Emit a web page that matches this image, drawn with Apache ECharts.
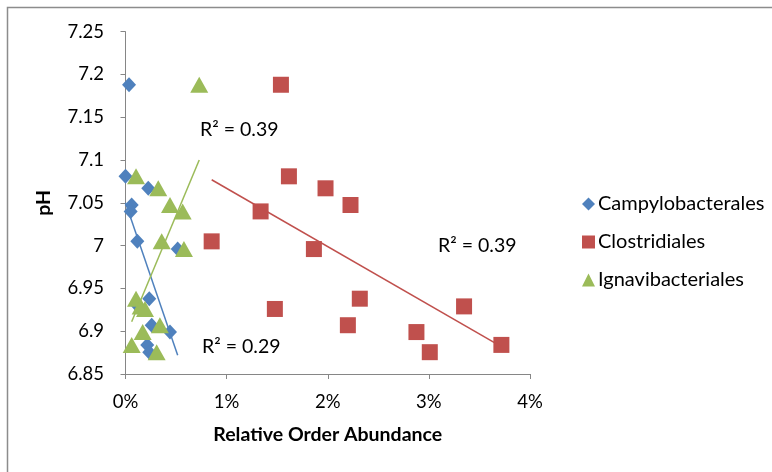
<!DOCTYPE html>
<html>
<head>
<meta charset="utf-8">
<script src="https://cdn.jsdelivr.net/npm/echarts@6/dist/echarts.min.js"></script>
<style>
html,body{margin:0;padding:0;background:#fff;}
#chart{width:772px;height:472px;}
</style>
</head>
<body>
<div id="chart"></div>
<script>
// pH of each sample
var phValues = [7.188, 7.081, 7.067, 7.0475, 7.040, 7.005, 6.996, 6.938, 6.929, 6.926, 6.907, 6.899, 6.884, 6.8755];
// Relative order abundance (%) per sample
var campylobacterales = [0.035, 0.0, 0.225, 0.061, 0.051, 0.117, 0.516, 0.235, 0.127, 0.15, 0.259, 0.44, 0.215, 0.235];
var clostridiales     = [1.537, 1.616, 1.978, 2.225, 1.336, 0.852, 1.863, 2.317, 3.348, 1.477, 2.199, 2.877, 3.717, 3.009];
var ignavibacteriales = [0.729, 0.104, 0.324, 0.44, 0.565, 0.358, 0.578, 0.104, 0.15, 0.193, 0.34, 0.17, 0.061, 0.308];
// Trendline endpoints (x %, pH)
var trendCampylo = [[0.0, 7.050], [0.516, 6.872]];
var trendClostri = [[0.852, 7.077], [3.717, 6.882]];
var trendIgnavi  = [[0.061, 6.911], [0.729, 7.100]];
var seriesNames = ['Campylobacterales', 'Clostridiales', 'Ignavibacteriales'];
var r2Labels = ['R² = 0.29', 'R² = 0.39', 'R² = 0.39'];

function pair(xs){ return xs.map(function(x,i){ return [x, phValues[i]]; }); }

var FONT = 'Lato';
var colors = ['#4F81BD', '#C0504D', '#9BBB59'];
var chart = echarts.init(document.getElementById('chart'));
var option = {
  animation: false,
  textStyle: {fontFamily: FONT},
  graphic: [
    {type:'rect', shape:{x:7.5, y:7.5, width:900, height:900}, style:{fill:'none', stroke:'#8c8c8c', lineWidth:1.5}, silent:true},
    {type:'text', left:200, top:120, style:{text:r2Labels[2], font:'19.5px ' + FONT, fill:'#000'}},
    {type:'text', left:438, top:236, style:{text:r2Labels[1], font:'19.5px ' + FONT, fill:'#000'}},
    {type:'text', left:202, top:337, style:{text:r2Labels[0], font:'19.5px ' + FONT, fill:'#000'}}
  ],
  grid: {left:125.5, top:31.7, right:242, bottom:98, containLabel:false},
  legend: {
    orient:'vertical', left:577, top:189, itemGap:18, itemWidth:13, itemHeight:13,
    textStyle:{fontSize:20, color:'#000', fontFamily:FONT, padding:[0,0,0,-2]},
    data:[{name:seriesNames[0], icon:'diamond'},{name:seriesNames[1], icon:'rect'},{name:seriesNames[2], icon:'triangle'}]
  },
  xAxis: {
    type:'value', min:0, max:4, interval:1,
    name:'Relative Order Abundance', nameLocation:'middle', nameGap:51,
    nameTextStyle:{fontSize:19.5, fontWeight:'bold', color:'#000', fontFamily:FONT},
    axisLine:{lineStyle:{color:'#868686', width:1}},
    axisTick:{show:true, length:5, lineStyle:{color:'#868686'}},
    splitLine:{show:false},
    axisLabel:{margin:19, fontSize:18.5, color:'#000', formatter:function(v){ return v + '%'; }}
  },
  yAxis: {
    type:'value', min:6.85, max:7.25, interval:0.05,
    name:'pH', nameLocation:'middle', nameGap:72, nameRotate:90,
    nameTextStyle:{fontSize:19.5, fontWeight:'bold', color:'#000', fontFamily:FONT},
    axisLine:{show:true, lineStyle:{color:'#868686', width:1}},
    axisTick:{show:true, length:5, lineStyle:{color:'#868686'}},
    splitLine:{show:false},
    axisLabel:{margin:21.5, fontSize:18.5, color:'#000', formatter:function(v){ return String(parseFloat(v.toFixed(2))); }}
  },
  series: [
    {name:seriesNames[0], type:'scatter', symbol:'diamond', symbolSize:[14,15], itemStyle:{color:colors[0], opacity:1}, data:pair(campylobacterales), z:3},
    {name:seriesNames[1], type:'scatter', symbol:'rect', symbolSize:16, itemStyle:{color:colors[1], opacity:1}, data:pair(clostridiales), z:3},
    {name:seriesNames[2], type:'scatter', symbol:'triangle', symbolSize:[18,16], itemStyle:{color:colors[2], opacity:1}, data:pair(ignavibacteriales), z:4},
    {name:'t0', type:'line', data:trendCampylo, showSymbol:false, symbol:'none', lineStyle:{color:colors[0], width:1.5}, z:5, silent:true},
    {name:'t1', type:'line', data:trendClostri, showSymbol:false, symbol:'none', lineStyle:{color:colors[1], width:1.5}, z:5, silent:true},
    {name:'t2', type:'line', data:trendIgnavi, showSymbol:false, symbol:'none', lineStyle:{color:colors[2], width:1.5}, z:5, silent:true}
  ]
};
chart.setOption(option);
</script>
</body>
</html>
